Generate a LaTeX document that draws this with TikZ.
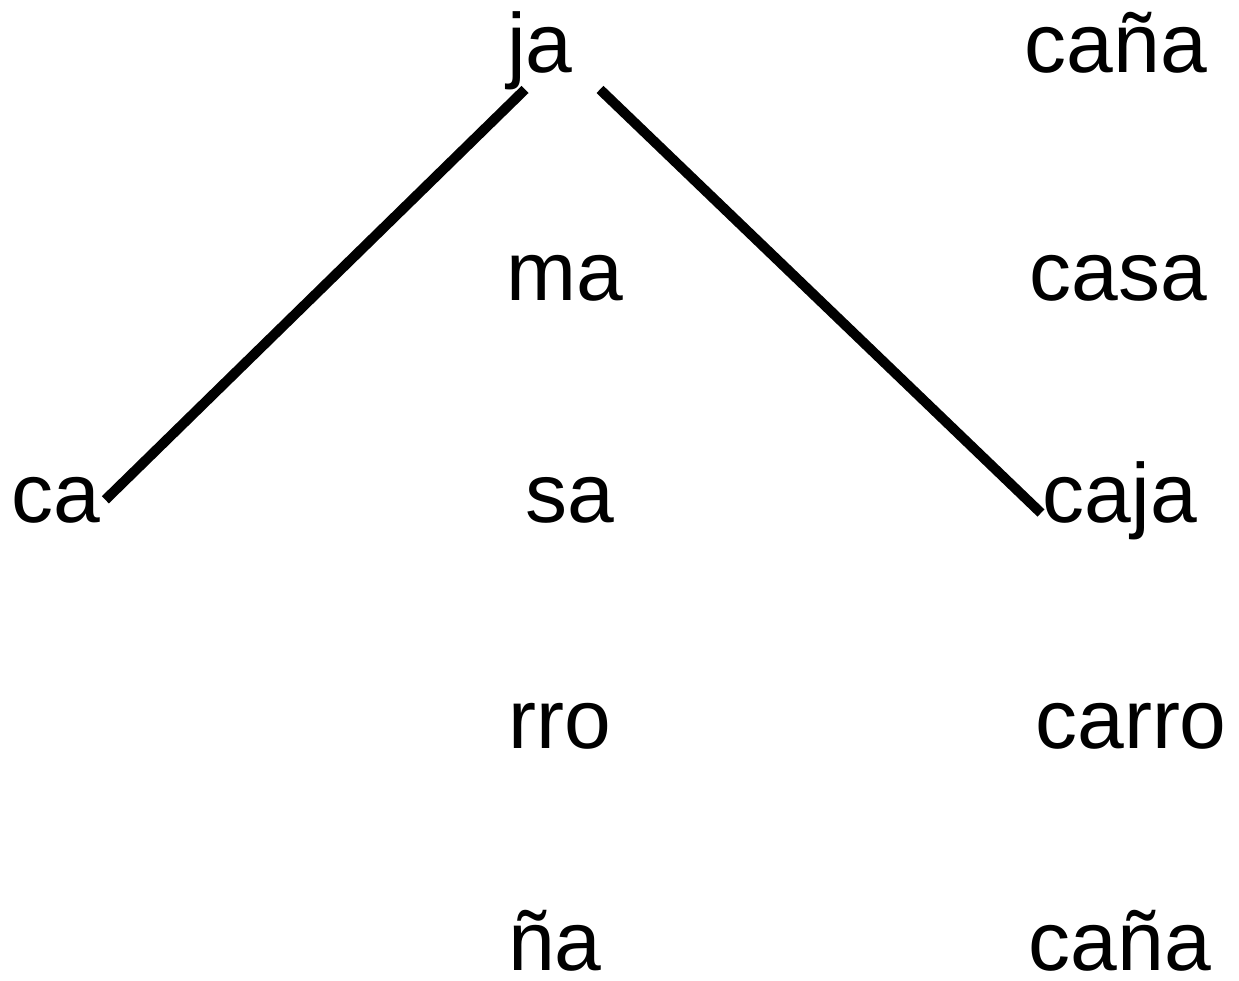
\documentclass[tikz,border=0pt]{standalone}
\usepackage{fontspec}
\setmainfont{Liberation Sans}
\begin{document}
\begin{tikzpicture}[x=1pt,y=-1pt,wd/.style={anchor=base,inner sep=0pt,outer sep=0pt,font=\fontsize{84}{100}\selectfont},ln/.style={line width=10pt}]
                     \useasboundingbox (0,0) rectangle (1239,980);
                     % syllables
                     \node[wd] (ja)  at (540,72)  {ja};
                     \node[wd] (ma)  at (565,300) {ma};
                     \node[wd] (ca)  at (56,522)  {ca};
                     \node[wd] (sa)  at (570,522) {sa};
                     \node[wd] (rro) at (560,748) {rro};
                     \node[wd] (nya) at (555,970) {ña};
                     % words
                     \node[wd] (canaA) at (1116,72)  {caña};
                     \node[wd] (casa)  at (1118,300) {casa};
                     \node[wd] (caja)  at (1120,522) {caja};
                     \node[wd] (carro) at (1131,748) {carro};
                     \node[wd] (canaB) at (1120,970) {caña};
                     \draw[ln] ([xshift=5pt]ca.east) -- ([xshift=-15pt]ja.south);
                     \draw[ln] ([xshift=60pt]ja.south) -- ([shift={(-2pt,9pt)}]caja.base west);
                 \end{tikzpicture}
\end{document}
